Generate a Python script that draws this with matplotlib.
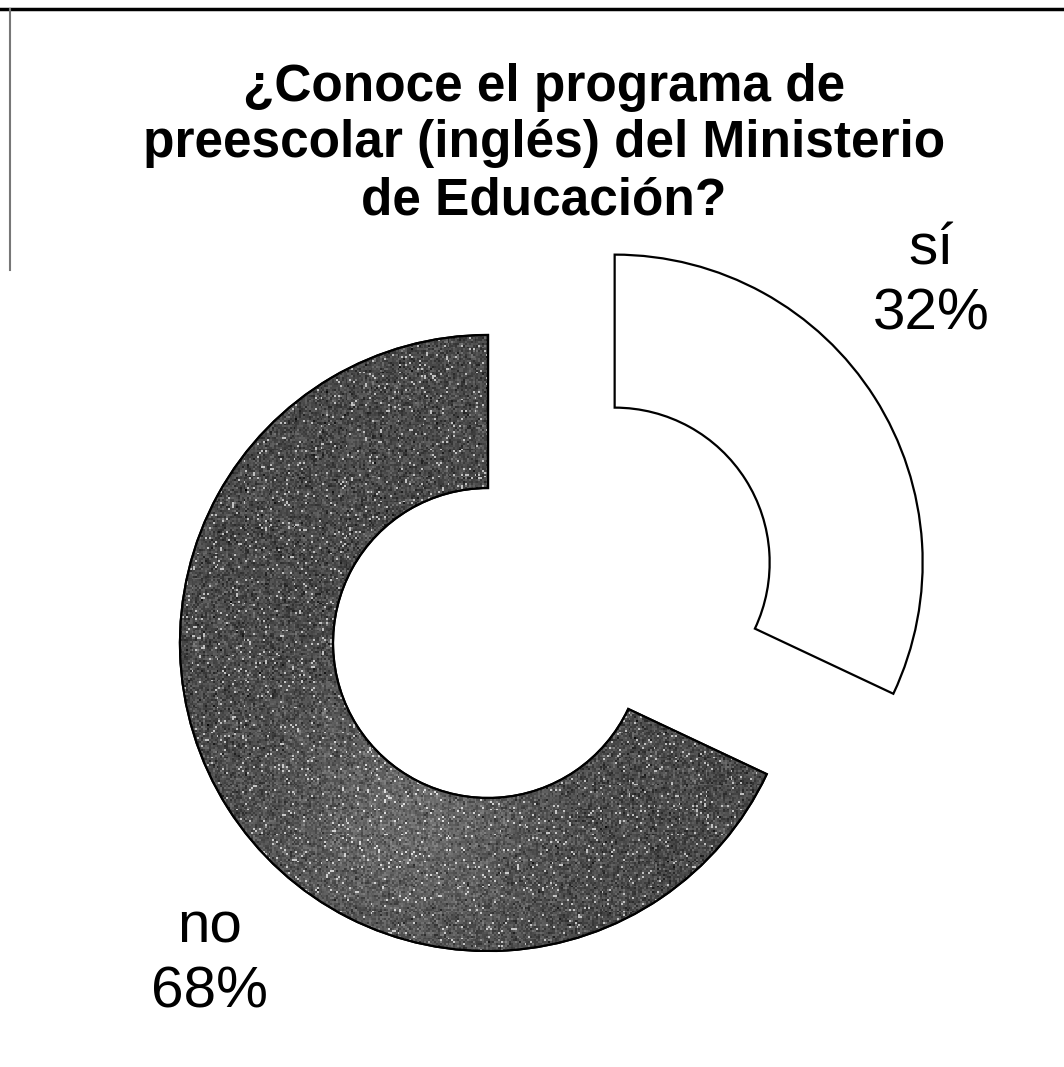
import matplotlib
matplotlib.use("Agg")
import matplotlib.pyplot as plt
from matplotlib.patches import Wedge
import numpy as np

# data
categories = ["sí", "no"]
values = [32, 68]
label_texts = ["sí\n32%", "no\n68%"]
title = "¿Conoce el programa de\npreescolar (inglés) del Ministerio\nde Educación?"

plt.rcParams["font.family"] = ["Liberation Sans", "DejaVu Sans"]

W, H = 1064, 1067
fig = plt.figure(figsize=(W / 100, H / 100), dpi=100)
ax = fig.add_axes([0, 0, 1, 1])

cx, cy = 488, H - 643
R = 308
ring = 153

wedges, _ = ax.pie(
    values,
    startangle=90,
    counterclock=False,
    radius=R,
    center=(cx, cy),
    explode=[150, 0],
    colors=["white", "#4a4a4a"],
    wedgeprops=dict(width=ring, edgecolor="black", linewidth=1.6),
)
ax.set_xlim(0, W)
ax.set_ylim(0, H)
ax.set_aspect("equal")
ax.axis("off")

# speckled grey texture for the "no" slice (decoration only)
rng = np.random.default_rng(7)
tex = 0.29 + 0.07 * rng.standard_normal((320, 320))
tex[rng.random((320, 320)) > 0.96] = 0.75
yy, xx = np.mgrid[0:320, 0:320]
tex += 0.12 * np.exp(-((xx - 120) ** 2 + (yy - 250) ** 2) / 4000.0)
tex = np.clip(tex, 0, 1)
img = ax.imshow(tex, cmap="gray", vmin=0, vmax=1, origin="upper",
                extent=(cx - R, cx + R, cy - R, cy + R), zorder=1.5,
                interpolation="nearest")
img.set_clip_path(wedges[1])
wedges[1].set_zorder(1)
edge = Wedge(wedges[1].center, wedges[1].r, wedges[1].theta1, wedges[1].theta2,
             width=wedges[1].width, facecolor="none",
             edgecolor="black", linewidth=1.6, zorder=2)
ax.add_patch(edge)

# slice labels
ax.text(931, H - 282, label_texts[0], ha="center", va="center",
        fontsize=42, linespacing=1.28)
ax.text(210, H - 960, label_texts[1], ha="center", va="center",
        fontsize=42, linespacing=1.28)

# title
ax.text(W / 2 + 12, H - 144, title, ha="center", va="center",
        fontsize=37, fontweight="bold", linespacing=1.2)

# scan frame
ax.plot([0, W], [H - 9, H - 9], color="black", lw=2.5)
ax.plot([10, 10], [H - 9, H - 270], color="#777777", lw=1.5)

fig.savefig("out.png", dpi=100)
